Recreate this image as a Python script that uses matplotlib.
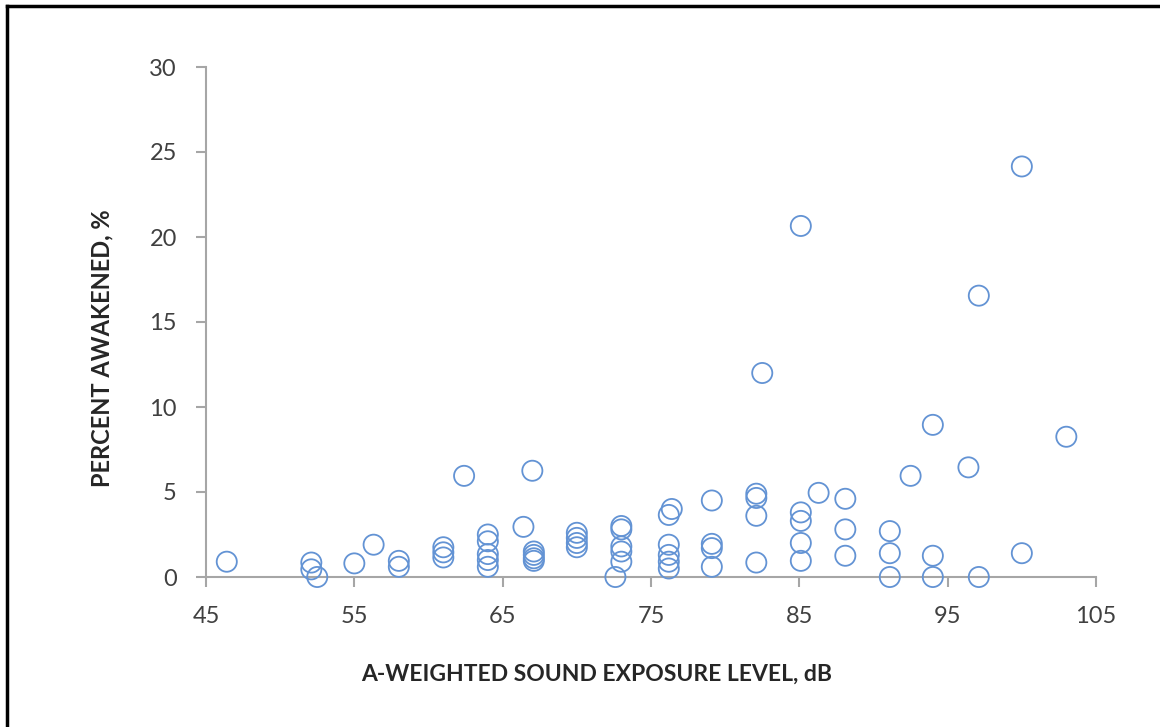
import matplotlib.pyplot as plt
from matplotlib.lines import Line2D

# A-weighted sound exposure level (dB) and percent awakened
sel_db = [46.4, 52.1, 52.1, 52.5, 55.0, 56.3, 58.0, 58.0,
          61.0, 61.0, 61.0, 62.4, 64.0, 64.0, 64.0, 64.0, 64.0,
          66.4, 67.0, 67.1, 67.1, 67.1, 67.1,
          70.0, 70.0, 70.0, 70.0, 72.6, 73.0, 73.0, 73.0, 73.0, 73.0,
          76.4, 76.2, 76.2, 76.2, 76.2, 76.2,
          79.1, 79.1, 79.1, 79.1, 82.1, 82.1, 82.1, 82.1, 82.5,
          85.1, 85.1, 85.1, 85.1, 85.1, 86.3, 88.1, 88.1, 88.1,
          91.1, 91.1, 91.1, 92.5, 94.0, 94.0, 94.0, 96.4, 97.1, 97.1,
          100.0, 100.0, 103.0]
pct_awake = [0.9, 0.85, 0.45, 0.0, 0.8, 1.9, 0.95, 0.6,
             1.75, 1.45, 1.15, 5.95, 2.5, 2.1, 1.35, 1.0, 0.6,
             2.95, 6.25, 1.5, 1.3, 1.1, 0.95,
             2.6, 2.3, 2.0, 1.75, 0.0, 3.0, 2.8, 1.8, 1.5, 0.9,
             4.0, 3.65, 1.9, 1.3, 0.9, 0.5,
             4.5, 1.95, 1.7, 0.6, 4.9, 4.65, 3.6, 0.85, 12.0,
             20.65, 3.8, 3.3, 2.0, 0.95, 4.95, 4.6, 2.8, 1.25,
             2.7, 1.4, 0.0, 5.95, 8.95, 1.25, 0.0, 6.45, 16.55, 0.0,
             24.15, 1.4, 8.25]

x_ticks = [45, 55, 65, 75, 85, 95, 105]
y_ticks = [0, 5, 10, 15, 20, 25, 30]

plt.rcParams['font.family'] = ['Lato', 'DejaVu Sans']

fig = plt.figure(figsize=(11.6, 7.27), dpi=100)
ax = fig.add_axes([206 / 1160, 1 - 577 / 727, 890 / 1160, 510 / 727])

ax.scatter(sel_db, pct_awake, s=210, facecolors='none',
           edgecolors='#6393D4', linewidths=1.3, clip_on=False, zorder=3)

ax.set_xlim(45, 105)
ax.set_ylim(0, 30)
ax.set_xticks(x_ticks)
ax.set_yticks(y_ticks)

for side in ['top', 'right']:
    ax.spines[side].set_visible(False)
for side in ['left', 'bottom']:
    ax.spines[side].set_color('#A6A6A6')
    ax.spines[side].set_linewidth(1.5)

ax.tick_params(axis='both', direction='out', length=7, width=1.5,
               color='#A6A6A6', labelcolor='#404040', labelsize=17)
ax.tick_params(axis='x', pad=14)
ax.tick_params(axis='y', pad=14)

# the axis titles sit off-centre in the original
ax.set_xlabel('A-WEIGHTED SOUND EXPOSURE LEVEL, dB', fontsize=16.5,
              fontweight='bold', color='#262626', labelpad=26,
              x=(597 - 206) / 890)
ax.set_ylabel('PERCENT AWAKENED, %', fontsize=17,
              fontweight='bold', color='#262626', labelpad=26,
              y=(577 - 348) / 510)

# black frame on the left and top edges of the picture
fig.add_artist(Line2D([7 / 1160, 7 / 1160], [0, 1 - 6 / 727],
                      color='black', linewidth=2.5, transform=fig.transFigure))
fig.add_artist(Line2D([7 / 1160, 1], [1 - 6 / 727, 1 - 6 / 727],
                      color='black', linewidth=2.5, transform=fig.transFigure))

plt.savefig('out.png', dpi=100)
